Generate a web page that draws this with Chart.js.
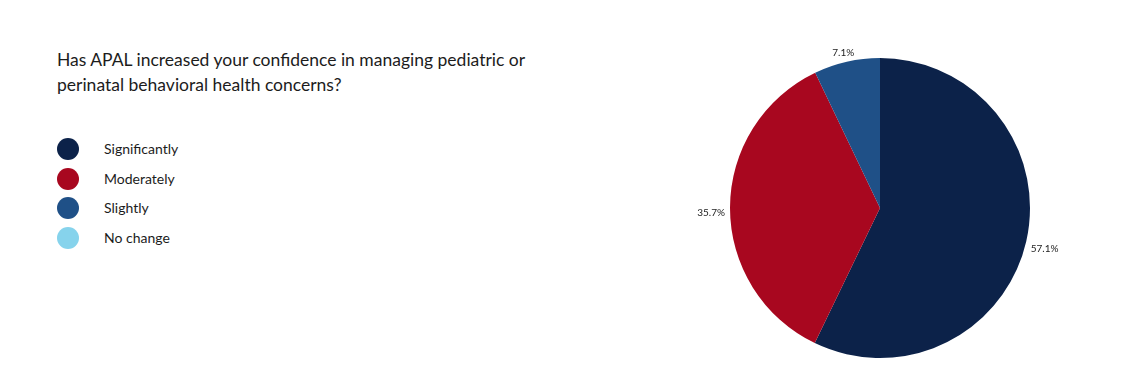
<!DOCTYPE html>
<html>
<head>
<meta charset="utf-8">
<script src="https://cdn.jsdelivr.net/npm/chart.js@4.4.0/dist/chart.umd.min.js"></script>
<style>
  html, body { margin:0; padding:0; background:#fff; width:1140px; height:380px; overflow:hidden; font-family: Lato, "Open Sans", sans-serif; }
  #title { position:absolute; left:57px; top:47px; width:540px; font-size:17.5px; line-height:25px; color:#1c1c1c; }
  #legend { position:absolute; left:57px; top:138px; }
  .item { position:relative; height:29.6px; }
  .dot { position:absolute; left:0; top:0; width:22px; height:22px; border-radius:50%; }
  .lab { position:absolute; left:47px; top:2px; font-size:14px; color:#1c1c1c; white-space:nowrap; }
  #wrap { position:absolute; left:680px; top:28px; width:400px; height:360px; }
</style>
</head>
<body>
<div id="title"></div>
<div id="legend"></div>
<div id="wrap"><canvas id="c"></canvas></div>
<script>
const titleLines = ["Has APAL increased your confidence in managing pediatric or", "perinatal behavioral health concerns?"];
const categories = ["Significantly", "Moderately", "Slightly", "No change"];
const values = [57.1, 35.7, 7.1, 0];
const colors = ["#0c2249", "#a8071f", "#1f5087", "#86d3ec"];

const t = document.getElementById('title');
titleLines.forEach((s, i) => { if (i) t.appendChild(document.createElement('br')); t.appendChild(document.createTextNode(s)); });
const lg = document.getElementById('legend');
categories.forEach((c, i) => {
  const it = document.createElement('div'); it.className = 'item';
  const d = document.createElement('div'); d.className = 'dot'; d.style.background = colors[i];
  const l = document.createElement('div'); l.className = 'lab'; l.textContent = c;
  it.appendChild(d); it.appendChild(l); lg.appendChild(it);
});

const outLabels = {
  id: 'outLabels',
  afterDatasetsDraw(chart) {
    const ctx = chart.ctx;
    const meta = chart.getDatasetMeta(0);
    ctx.save();
    ctx.font = '10px Lato, "Open Sans", sans-serif';
    ctx.fillStyle = '#222';
    ctx.textAlign = 'center';
    ctx.textBaseline = 'middle';
    meta.data.forEach((arc, i) => {
      const v = values[i];
      if (!v) return;
      const a = (arc.startAngle + arc.endAngle) / 2;
      const r = arc.outerRadius + 5;
      const ux = Math.cos(a), uy = Math.sin(a);
      const txt = v.toFixed(1) + '%';
      const w = ctx.measureText(txt).width, h = 10;
      const x = arc.x + r * ux + ux * w / 2;
      const y = arc.y + r * uy + uy * h / 2 + 5 * Math.abs(ux);
      ctx.fillText(txt, x, y);
    });
    ctx.restore();
  }
};

new Chart(document.getElementById('c'), {
  type: 'pie',
  data: { labels: categories, datasets: [{ data: values, backgroundColor: colors, borderWidth: 0 }] },
  options: {
    responsive: true, maintainAspectRatio: false, animation: false,
    layout: { padding: 30 },
    plugins: { legend: { display: false }, tooltip: { enabled: false } }
  },
  plugins: [outLabels]
});
</script>
</body>
</html>
